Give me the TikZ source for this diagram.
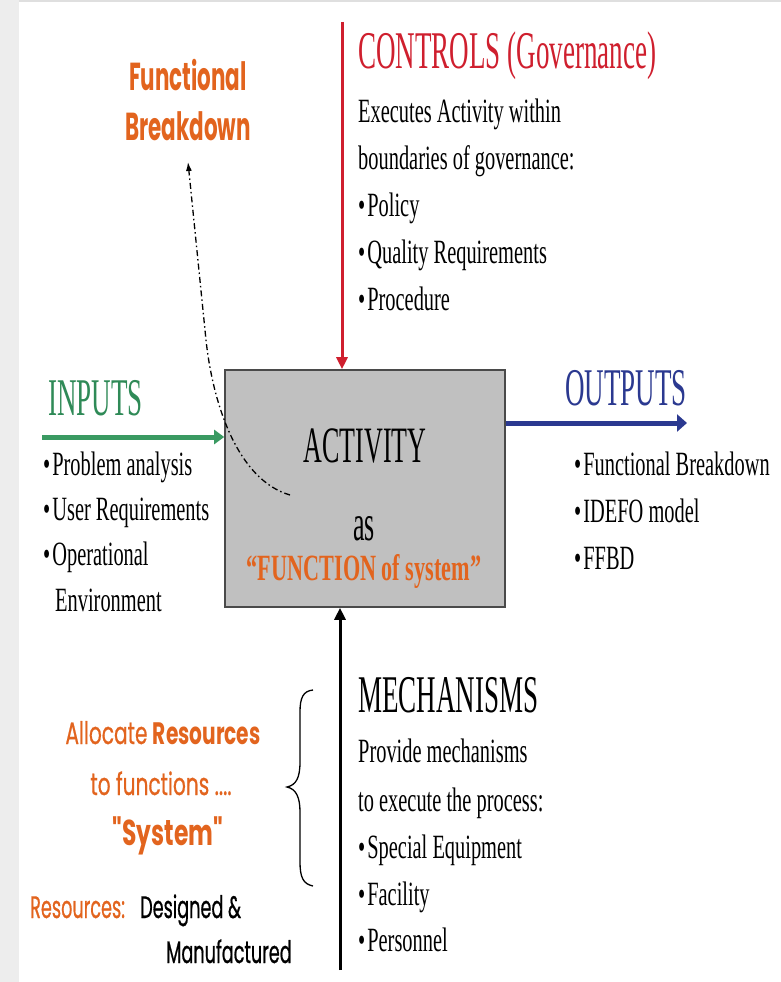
\documentclass[tikz,border=0pt]{standalone}
\usepackage{fontspec}
\setmainfont{Liberation Serif}
\newfontfamily\ttlfont[FakeStretch=0.51]{Liberation Serif}
\newfontfamily\bdyfont[FakeStretch=0.6]{Liberation Serif}
\newfontfamily\cmcfont[FakeStretch=0.55]{Poppins}
\newfontfamily\cmcwfont[FakeStretch=0.65,FakeBold=0.6]{Poppins}
\newfontfamily\cmcwbfont[FakeStretch=0.65]{Poppins}
\newfontfamily\cmcnfont[FakeStretch=0.57,FakeBold=0.6]{Poppins}
\usetikzlibrary{arrows.meta}
\definecolor{cred}{HTML}{CF1F2E}
\definecolor{cgreen}{HTML}{2F8A57}
\definecolor{cgreenarr}{HTML}{3A9A62}
\definecolor{cblue}{HTML}{2B3990}
\definecolor{corange}{HTML}{E2641E}
\definecolor{cbox}{HTML}{C0C0C0}
\definecolor{cboxline}{HTML}{4A4A4A}
\begin{document}
\begin{tikzpicture}[x=1pt,y=-1pt,
  ttl/.style={anchor=base west, inner sep=0pt, font=\ttlfont\fontsize{53}{53}\selectfont},
  bdy/.style={anchor=base west, inner sep=0pt, font=\bdyfont\fontsize{34}{34}\selectfont},
  cmc/.style={anchor=base, inner sep=0pt, text=corange, font=\cmcwfont\fontsize{31}{31}\selectfont},
  cmcbig/.style={anchor=base, inner sep=0pt, text=corange, font=\cmcfont\bfseries\fontsize{39}{39}\selectfont},
  cmcl/.style={anchor=base west, inner sep=0pt, font=\cmcnfont\fontsize{31}{31}\selectfont},
]
\useasboundingbox (0,0) rectangle (781,982);
% background details
\fill[gray!14] (0,0) rectangle (19,982);
\draw[gray!25, line width=1.5pt] (19,1) -- (781,1);

% activity box
\node[draw=cboxline, line width=1.6pt, fill=cbox, minimum width=280pt, minimum height=237pt, inner sep=0pt] (act) at (365,488.5) {};
\node[anchor=base, inner sep=0pt, font=\ttlfont\fontsize{51}{51}\selectfont] (actt) at (365,462) {ACTIVITY};
\node[anchor=base, inner sep=0pt, font=\ttlfont\fontsize{51}{51}\selectfont] (as) at (364,540) {as};
\node[anchor=base, inner sep=0pt, text=corange, font=\bdyfont\bfseries\fontsize{37}{37}\selectfont] (fos) at (364,580) {“FUNCTION of system”};

% controls
\coordinate (ctop) at (342,22);
\draw[cred, line width=3pt, -{Triangle[length=12pt,width=11pt]}] (ctop) -- (ctop |- act.north);
\node[ttl, text=cred] (ctl) at (358,68) {CONTROLS (Governance)};
\node[bdy] (c1) at (358,122) {Executes Activity within};
\node[bdy] (c2) at (358,169) {boundaries of governance:};
\node[bdy] (c3) at (358,216) {•\hspace{2pt}Policy};
\node[bdy] (c4) at (358,263) {•\hspace{2pt}Quality Requirements};
\node[bdy] (c5) at (358,310) {•\hspace{2pt}Procedure};

% inputs
\coordinate (inL) at (42,437);
\draw[cgreenarr, line width=5pt, -{Triangle[length=10pt,width=14pt]}] (inL) -- (inL -| act.west);
\node[ttl, text=cgreen] (inp) at (48,415) {INPUTS};
\node[bdy] (i1) at (43,475) {•\hspace{2pt}Problem analysis};
\node[bdy] (i2) at (43,520) {•\hspace{2pt}User Requirements};
\node[bdy] (i3) at (43,565) {•\hspace{2pt}Operational};
\node[bdy] (i4) at (55,611) {Environment};

% outputs
\coordinate (outR) at (687,423);
\draw[cblue, line width=5pt, -{Triangle[length=10pt,width=17pt]}] (outR -| act.east) -- (outR);
\node[ttl, text=cblue] (outp) at (565,405) {OUTPUTS};
\node[bdy] (o1) at (574,475) {•\hspace{2pt}Functional Breakdown};
\node[bdy] (o2) at (574,522) {•\hspace{2pt}IDEFO model};
\node[bdy] (o3) at (574,569) {•\hspace{2pt}FFBD};

% mechanisms
\coordinate (mbot) at (340,970);
\draw[black, line width=3pt, -{Triangle[length=12pt,width=11pt]}] (mbot) -- (mbot |- act.south);
\node[ttl] (mech) at (358,712) {MECHANISMS};
\node[bdy] (m1) at (358,762) {Provide mechanisms};
\node[bdy] (m2) at (358,811) {to execute the process:};
\node[bdy] (m3) at (358,858) {•\hspace{2pt}Special Equipment};
\node[bdy] (m4) at (358,905) {•\hspace{2pt}Facility};
\node[bdy] (m5) at (358,951) {•\hspace{2pt}Personnel};

% functional breakdown
\node[cmcbig] (fb1) at (188,90) {Functional};
\node[cmcbig] (fb2) at (188,140) {Breakdown};
\coordinate (fbend) at (290,495);
\draw[line width=1.3pt, dash pattern=on 6pt off 3pt on 1.5pt off 3pt, -{Latex[length=9pt,width=6pt]}]
  (fbend) .. controls (238,480) and (213,405) .. (206,340) -- (fb2.south |- 0,162);

% allocate resources
\node[cmc] (al1) at (163,744) {Allocate {\cmcwbfont\bfseries Resources}};
\node[cmc] (al2) at (161,795) {to functions ....};
\node[cmc, font=\cmcwbfont\bfseries\fontsize{36}{36}\selectfont] (al3) at (168,845) {"System"};
\node[cmcl, text=corange] (r1) at (30,918) {Resources:};
\node[cmcl] (r2) at (140,918) {Designed \&};
\node[cmcl] (r3) at (166,963) {Manufactured};

% brace
\draw[line width=1.3pt] (313,690) .. controls (303,691) and (300,698) .. (300,712) -- (300,762)
  .. controls (300,778) and (296,785) .. (287,787)
  .. controls (296,789) and (300,797) .. (300,812) -- (300,862)
  .. controls (300,877) and (303,884) .. (313,886);
\end{tikzpicture}
\end{document}
